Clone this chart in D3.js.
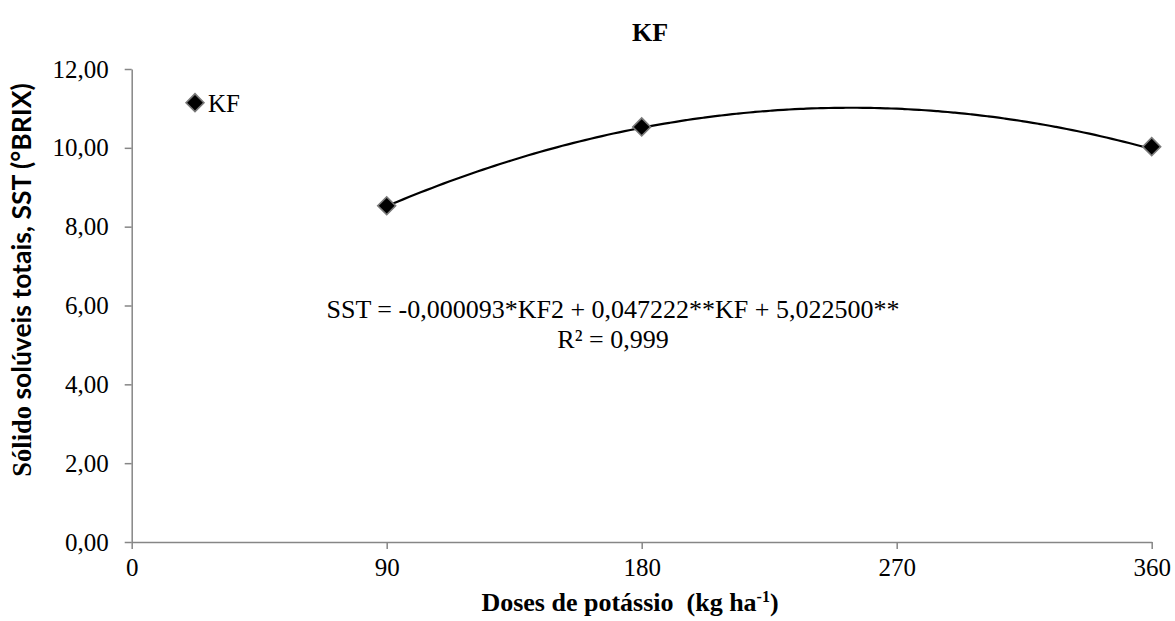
<!DOCTYPE html>
<html>
<head>
<meta charset="utf-8">
<script src="https://cdn.jsdelivr.net/npm/d3@7"></script>
<style>
  body { margin: 0; background: #fff; }
  .axis path, .axis line { stroke: #868686; stroke-width: 1.5px; }
  .axis text { font-size: 25px; fill: #000; }
</style>
</head>
<body>
<div id="draw"></div>
<script>
// data
var doses = [90, 180, 360];
var sst = [8.53, 10.53, 10.03];
var xTicks = [0, 90, 180, 270, 360];
var yTicks = [0, 2, 4, 6, 8, 10, 12];
// trendline coefficients shown on the chart (a*x^2 + b*x + c)
var coef = [-0.000093, 0.047222, 5.0225];
var eqLines = ['SST = -0,000093*KF2 + 0,047222**KF + 5,022500**', 'R² = 0,999'];

var width = 1175, height = 621;
var serif = '"Liberation Serif", "Times New Roman", serif';

var svg = d3.select('#draw').append('svg')
  .attr('width', width)
  .attr('height', height);

var x = d3.scaleLinear().domain([0, 360]).range([131.7, 1151.7]);
var y = d3.scaleLinear().domain([0, 12]).range([542, 69]);

var fmt = function (d) { return d3.format('.2f')(d).replace('.', ','); };

svg.append('g')
  .attr('class', 'axis')
  .attr('transform', 'translate(0,' + y(0) + ')')
  .call(d3.axisBottom(x).tickValues(xTicks).tickSize(7).tickSizeOuter(0).tickPadding(9))
  .selectAll('text').attr('font-family', serif);

svg.append('g')
  .attr('class', 'axis')
  .attr('transform', 'translate(' + x(0) + ',0)')
  .call(d3.axisLeft(y).tickValues(yTicks).tickFormat(fmt).tickSize(7).tickSizeOuter(0).tickPadding(16))
  .selectAll('text').attr('font-family', serif);

// trendline over the dose range
var curveX = d3.range(90, 360.5, 2);
var line = d3.line()
  .x(function (d) { return x(d); })
  .y(function (d) { return y(coef[0] * d * d + coef[1] * d + coef[2]); })
  .curve(d3.curveBasis);

svg.append('path')
  .datum(curveX)
  .attr('d', line)
  .style('fill', 'none')
  .style('stroke', '#000')
  .style('stroke-width', 2.2);

var diamond = d3.symbol().type(d3.symbolSquare).size(160);

svg.selectAll('.pt')
  .data(doses)
  .enter()
  .append('path')
  .attr('class', 'pt')
  .attr('d', diamond)
  .attr('transform', function (d, i) {
    return 'translate(' + x(d) + ',' + y(sst[i]) + ') rotate(45)';
  })
  .style('fill', '#000')
  .style('stroke', '#7a7a7a')
  .style('stroke-width', 1.6);

// legend
svg.append('path')
  .attr('d', diamond)
  .attr('transform', 'translate(195,102.7) rotate(45)')
  .style('fill', '#000')
  .style('stroke', '#7a7a7a')
  .style('stroke-width', 1.6);

svg.append('text')
  .attr('x', 208)
  .attr('y', 112)
  .style('font-family', serif)
  .style('font-size', '25px')
  .text('KF');

// title
svg.append('text')
  .attr('x', 650)
  .attr('y', 41)
  .attr('text-anchor', 'middle')
  .style('font-family', serif)
  .style('font-size', '26px')
  .style('font-weight', 'bold')
  .text('KF');

// equation
svg.selectAll('.eq')
  .data(eqLines)
  .enter()
  .append('text')
  .attr('class', 'eq')
  .attr('x', 613)
  .attr('y', function (d, i) { return 318 + i * 30; })
  .attr('text-anchor', 'middle')
  .style('font-family', serif)
  .style('font-size', '26px')
  .text(function (d) { return d; });

// x axis title
var xt = svg.append('text')
  .attr('x', 630)
  .attr('y', 611)
  .attr('text-anchor', 'middle')
  .style('white-space', 'pre')
  .style('font-family', serif)
  .style('font-size', '26px')
  .style('font-weight', 'bold');
xt.append('tspan').text('Doses de potássio  (kg ha');
xt.append('tspan').attr('dy', -9).style('font-size', '16px').text('-1');
xt.append('tspan').attr('dy', 9).text(')');

// y axis title
var yt = svg.append('text')
  .attr('transform', 'translate(31,280) rotate(-90)')
  .attr('text-anchor', 'middle')
  .style('font-weight', 'bold')
  .style('font-size', '26.5px');
yt.append('tspan').style('font-family', serif).text('Sólido');
yt.append('tspan').style('font-family', 'Lato, sans-serif').text(' solúveis totais, SST (°BRIX)');
</script>
</body>
</html>
